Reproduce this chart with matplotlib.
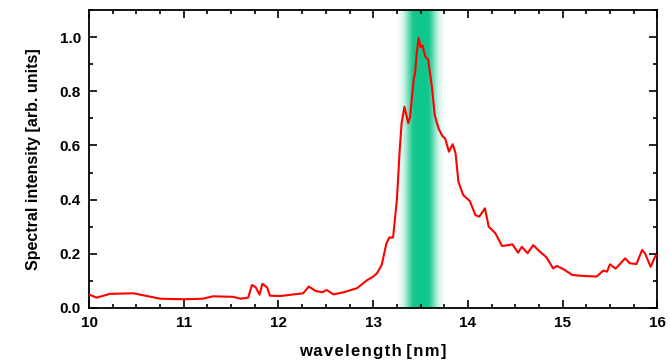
import numpy as np
import matplotlib.pyplot as plt
from matplotlib.ticker import MultipleLocator

# spectrum
wavelength = [10.0, 10.01, 10.08, 10.22, 10.47, 10.61, 10.75, 11.0, 11.2, 11.31, 11.52, 11.6,
              11.68, 11.72, 11.76, 11.8, 11.83, 11.88, 11.91, 12.02, 12.16, 12.26, 12.32,
              12.39, 12.46, 12.51, 12.58, 12.69, 12.83, 12.93, 13.0, 13.04, 13.09, 13.14,
              13.17, 13.21, 13.25, 13.28, 13.30, 13.33, 13.37, 13.39, 13.43, 13.44, 13.46,
              13.48, 13.5, 13.52, 13.55, 13.58, 13.62, 13.65, 13.69, 13.73, 13.76, 13.80,
              13.84, 13.87, 13.90, 13.95, 14.02, 14.08, 14.12, 14.18, 14.22, 14.29, 14.36,
              14.43, 14.47, 14.53, 14.57, 14.63, 14.69, 14.76, 14.83, 14.90, 14.94, 15.01,
              15.10, 15.22, 15.36, 15.43, 15.47, 15.50, 15.56, 15.66, 15.71, 15.78, 15.84,
              15.87, 15.93, 15.98, 16.0]
intensity = [0.05, 0.048, 0.038, 0.052, 0.054, 0.044, 0.034, 0.032, 0.034, 0.043, 0.041, 0.034,
             0.038, 0.085, 0.076, 0.049, 0.089, 0.076, 0.045, 0.044, 0.05, 0.054, 0.079,
             0.063, 0.058, 0.066, 0.05, 0.058, 0.073, 0.101, 0.116, 0.128, 0.159, 0.239,
             0.26, 0.26, 0.399, 0.583, 0.682, 0.743, 0.682, 0.706, 0.853, 0.86, 0.94,
             0.997, 0.964, 0.97, 0.928, 0.918, 0.817, 0.712, 0.663, 0.635, 0.626, 0.577,
             0.605, 0.571, 0.466, 0.417, 0.395, 0.343, 0.337, 0.368, 0.3, 0.276, 0.229,
             0.232, 0.235, 0.204, 0.226, 0.202, 0.232, 0.208, 0.187, 0.146, 0.155, 0.143,
             0.122, 0.118, 0.116, 0.138, 0.134, 0.161, 0.145, 0.183, 0.165, 0.162, 0.214,
             0.202, 0.152, 0.192, 0.194]

# highlighted in-band region (13.5 nm +- 0.25)
band_center = 13.5
band_half_width = 0.25

plt.rcParams['font.family'] = ['Liberation Sans', 'DejaVu Sans']
plt.rcParams['font.weight'] = 'bold'

fig = plt.figure(figsize=(6.7, 3.61), dpi=100)
ax = fig.add_axes([0.133, 0.147, 0.848, 0.825])

# gradient band: solid core fading out to the edges
xs = np.linspace(band_center - band_half_width, band_center + band_half_width, 300)
d = np.maximum(np.abs(xs - band_center) - 0.06, 0)
alpha = np.exp(-(d / 0.1) ** 2)
img = np.zeros((1, len(xs), 4))
img[..., 0] = 0.06
img[..., 1] = 0.78
img[..., 2] = 0.55
img[..., 3] = alpha
ax.imshow(img, extent=[xs[0], xs[-1], 0, 1.1], aspect='auto', interpolation='bilinear', zorder=1)

ax.plot(wavelength, intensity, color='#ff0000', lw=1.5, zorder=3)

ax.set_xlim(10, 16)
ax.set_ylim(0, 1.1)
ax.xaxis.set_major_locator(MultipleLocator(1))
ax.xaxis.set_minor_locator(MultipleLocator(0.25))
ax.yaxis.set_major_locator(MultipleLocator(0.2))
ax.yaxis.set_minor_locator(MultipleLocator(0.1))
ax.yaxis.set_major_formatter(plt.FuncFormatter(lambda v, p: f"{v:.1f}"))
ax.tick_params(which='both', direction='in', top=True, right=True, width=1.2,
               labelsize=11, pad=6)
ax.tick_params(which='major', length=6)
ax.tick_params(which='minor', length=3)
for s in ax.spines.values():
    s.set_linewidth(1.3)

hs = "\u200a"
xlabel = hs.join("wavelength") + " " + hs.join("[nm]")
ax.set_xlabel(xlabel, fontsize=12, fontweight='bold', labelpad=10)
ax.set_ylabel("Spectral intensity [arb. units]", fontsize=11.5, fontweight='bold')
ax.yaxis.set_label_coords(-0.085, 0.5)

fig.savefig("out.png", dpi=100)
